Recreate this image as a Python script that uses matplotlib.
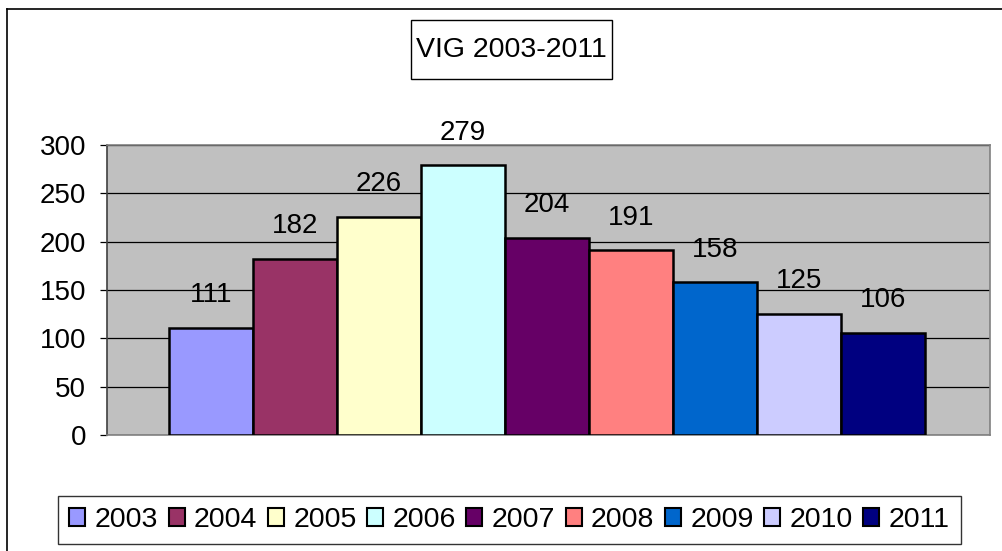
import matplotlib.pyplot as plt
from matplotlib.patches import Rectangle
from matplotlib.lines import Line2D

plt.rcParams['font.family'] = ['Liberation Sans', 'DejaVu Sans']

years = ['2003', '2004', '2005', '2006', '2007', '2008', '2009', '2010', '2011']
values = [111, 182, 226, 279, 204, 191, 158, 125, 106]
colors = ['#9999FF', '#993366', '#FFFFCC', '#CCFFFF', '#660066',
          '#FF8080', '#0066CC', '#CCCCFF', '#000080']
yticks = [0, 50, 100, 150, 200, 250, 300]

W, H = 1002, 551
fig = plt.figure(figsize=(W / 100, H / 100), dpi=100)

# outer chart frame (runs off right and bottom edges)
fig.add_artist(Line2D([7 / W, 7 / W], [0, 1 - 9 / H], color='black', lw=1.2))
fig.add_artist(Line2D([7 / W, 1], [1 - 9 / H, 1 - 9 / H], color='black', lw=1.2))

ax = fig.add_axes([107 / W, 1 - 435 / H, (990 - 107) / W, (435 - 145) / H])
ax.set_facecolor('#C0C0C0')

x = list(range(len(years)))
bars = ax.bar(x, values, width=1.0, color=colors, edgecolor='black',
              linewidth=1.8, label=years, zorder=3)

for xi, v in zip(x, values):
    ax.annotate(str(v), (xi, v), xytext=(0, 18.5), textcoords='offset points',
                ha='center', va='baseline', fontsize=20, zorder=4)

ax.set_xlim(-1.238, 9.274)
ax.set_ylim(0, 300)
ax.set_yticks(yticks)
ax.set_xticks([])
ax.yaxis.grid(True, color='black', linewidth=0.9, zorder=1)
ax.tick_params(axis='y', length=5, width=0.9, pad=10, labelsize=20, color='black')
for s in ax.spines.values():
    s.set_color('#808080')
    s.set_linewidth(1.2)
ax.spines['left'].set_color('#404040')

# title box
fig.add_artist(Rectangle((411 / W, 1 - 79 / H), 201 / W, 59 / H,
                         transform=fig.transFigure, facecolor='white',
                         edgecolor='black', linewidth=1))
fig.text(511.5 / W, 1 - 50 / H, 'VIG 2003-2011', ha='center', va='center',
         fontsize=20.5)

# legend
leg = fig.legend(bars, years, loc='center', ncol=9,
                 bbox_to_anchor=(509.5 / W, 1 - 520 / H),
                 fontsize=20.5, frameon=True, fancybox=False,
                 handlelength=0.56, handleheight=0.56, handletextpad=0.33,
                 columnspacing=0.37, borderpad=0.4, borderaxespad=0)
leg.get_frame().set_edgecolor('black')
leg.get_frame().set_linewidth(1)
for h in leg.legend_handles:
    h.set_linewidth(1.5)

fig.savefig('out.png', dpi=100)
